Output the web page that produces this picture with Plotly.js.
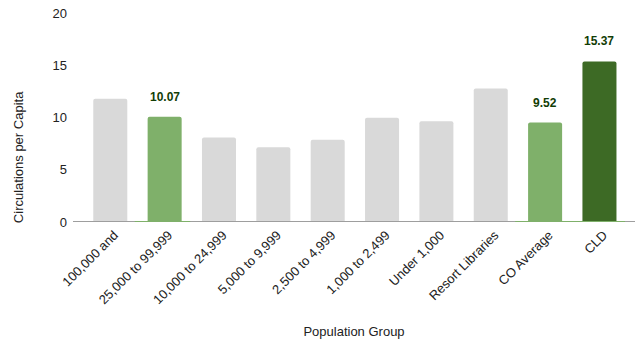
<!DOCTYPE html>
<html>
<head>
<meta charset="utf-8">
<script src="https://cdn.plot.ly/plotly-3.0.1.min.js"></script>
<style>html,body{margin:0;padding:0;background:#fff;}#chart{width:637px;height:339px;}</style>
</head>
<body>
<div id="chart"></div>
<script>
// Data
const categories = ["100,000 and", "25,000 to 99,999", "10,000 to 24,999", "5,000 to 9,999", "2,500 to 4,999", "1,000 to 2,499", "Under 1,000", "Resort Libraries", "CO Average", "CLD"];
const values = [11.8, 10.07, 8.09, 7.16, 7.87, 9.97, 9.65, 12.78, 9.52, 15.37];
const labelled = ["25,000 to 99,999", "CO Average", "CLD"];
const darkHighlight = ["CLD"];
const yTicks = [0, 5, 10, 15, 20];

const GREY = "#d9d9d9", LIGHT = "#7fb06a", DARK = "#3d6a25";
const FONT = "Liberation Sans, Arial, sans-serif";
const colors = categories.map(c => darkHighlight.includes(c) ? DARK : (labelled.includes(c) ? LIGHT : GREY));

const idx = categories.map((c, i) => i);

const trace = {
  type: "bar",
  x: idx,
  y: values,
  marker: {color: colors, cornerradius: 2, line: {width: 0}},
  hoverinfo: "none"
};

const annotations = [];
categories.forEach((c, i) => {
  if (labelled.includes(c)) {
    annotations.push({
      x: i, y: values[i], xref: "x", yref: "y",
      text: "<b>" + values[i].toFixed(2) + "</b>",
      showarrow: false, yshift: 20, yanchor: "middle",
      font: {family: FONT, size: 12, color: "#123d06"}
    });
  }
});
annotations.push({
  text: "Circulations per Capita", textangle: -90, showarrow: false,
  xref: "paper", yref: "paper", x: -0.098, y: 0.31, xanchor: "center", yanchor: "middle",
  font: {family: FONT, size: 13, color: "#222"}
});

const shapes = [{
  type: "line", xref: "paper", yref: "y", x0: 0, x1: 1, y0: 0, y1: 0,
  line: {color: "#9e9e9e", width: 2}, layer: "above"
}];
categories.forEach((c, i) => {
  if (labelled.includes(c)) {
    shapes.push({type: "line", xref: "x", yref: "y", x0: i - 0.55, x1: i + 0.47, y0: 0, y1: 0,
      line: {color: LIGHT, width: 2}, layer: "above"});
  }
});

const layout = {
  width: 637, height: 339,
  margin: {l: 73, r: 2, t: 13, b: 117},
  paper_bgcolor: "#fff", plot_bgcolor: "#fff",
  bargap: 0.374,
  showlegend: false,
  font: {family: FONT, size: 13, color: "#222"},
  xaxis: {
    tickmode: "array", tickvals: idx, ticktext: categories,
    tickangle: -45, range: [-0.686, 9.654],
    showgrid: false, zeroline: false, showline: false, ticks: "",
    ticklabelshift: 4, ticklabelstandoff: 2,
    tickfont: {size: 13, color: "#222"},
    title: {text: "Population Group", font: {size: 13, color: "#222"}, standoff: 46},
    automargin: false, fixedrange: true
  },
  yaxis: {
    range: [0, 20], tickmode: "array", tickvals: yTicks,
    showgrid: false, zeroline: false, showline: false, ticks: "",
    ticklabelstandoff: 5,
    tickfont: {size: 13, color: "#222"},
    automargin: false, fixedrange: true
  },
  annotations: annotations,
  shapes: shapes
};

Plotly.newPlot("chart", [trace], layout, {displayModeBar: false, staticPlot: true});
</script>
</body>
</html>
